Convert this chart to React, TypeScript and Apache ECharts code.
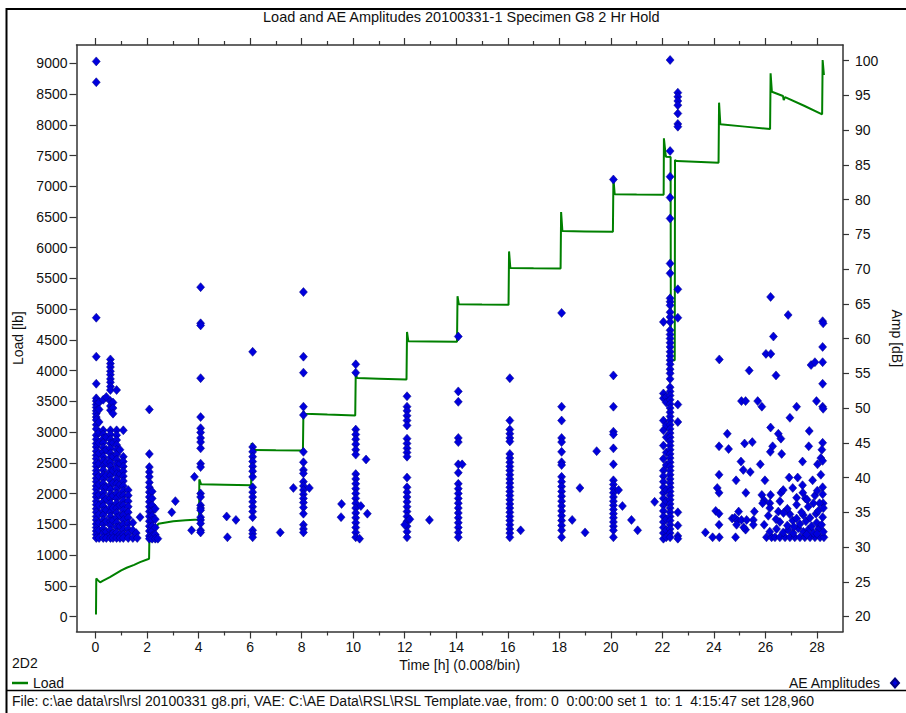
import React, { useEffect, useRef } from "react";
import * as echarts from "echarts";

const FONT = "'Liberation Sans', Arial, Helvetica, sans-serif";
const TXT = "#111111";
const AX = "#333333";

const TITLE = "Load and AE Amplitudes 20100331-1 Specimen G8 2 Hr Hold";
const FOOTER =
  "File: c:\\ae data\\rsl\\rsl 20100331 g8.pri, VAE: C:\\AE Data\\RSL\\RSL Template.vae, from: 0  0:00:00 set 1  to: 1  4:15:47 set 128,960";

// axis ranges & ticks
const X_MIN = -0.737;
const X_MAX = 29.01;
const LOAD_MIN = -244;
const LOAD_MAX = 9298;
const AMP_MIN = 17.84;
const AMP_MAX = 102.26;
const xMajorTicks = [0, 2, 4, 6, 8, 10, 12, 14, 16, 18, 20, 22, 24, 26, 28];
const xMinorTicks = [1, 3, 5, 7, 9, 11, 13, 15, 17, 19, 21, 23, 25, 27];
const loadTicks = [0, 500, 1000, 1500, 2000, 2500, 3000, 3500, 4000, 4500, 5000, 5500, 6000, 6500, 7000, 7500, 8000, 8500, 9000];
const ampTicks = [20, 25, 30, 35, 40, 45, 50, 55, 60, 65, 70, 75, 80, 85, 90, 95, 100];

// Load [lb] vs time [h]
const loadData: [number, number][] = [
  [0.02, 33], [0.03, 620], [0.07, 600], [0.18, 555], [0.28, 580], [0.56, 640], [1.0, 750], [1.21, 793],
  [1.5, 840], [1.73, 885], [2.08, 940], [2.09, 1240], [2.2, 1330], [2.44, 1510], [3.02, 1550], [3.5, 1565],
  [4.02, 1580], [4.03, 2230], [4.1, 2150], [5.0, 2145], [6.04, 2135], [6.06, 2822], [6.12, 2710], [7.0, 2705],
  [8.05, 2700], [8.07, 3340], [8.12, 3300], [9.0, 3285], [10.08, 3270], [10.1, 3960], [10.15, 3880], [11.0, 3870],
  [12.07, 3855], [12.09, 4630], [12.14, 4480], [13.0, 4475], [14.03, 4470], [14.05, 5210], [14.1, 5080], [15.0, 5075],
  [16.03, 5070], [16.05, 5940], [16.1, 5670], [17.0, 5665], [18.05, 5660], [18.07, 6580], [18.12, 6270], [19.0, 6265],
  [20.08, 6258], [20.1, 7130], [20.15, 6870], [21.0, 6866], [22.05, 6862], [22.06, 7780], [22.13, 7500], [22.14, 7480],
  [22.32, 7475], [22.33, 4170], [22.48, 4170], [22.49, 7425], [22.56, 7410], [23.5, 7395], [24.18, 7382], [24.2, 8360],
  [24.25, 8007], [25.2, 7970], [26.18, 7930], [26.2, 8837], [26.25, 8538], [26.68, 8468], [26.71, 8402], [26.76, 8450],
  [27.5, 8310], [28.2, 8170], [28.22, 9054], [28.27, 8810],
];

// AE amplitude [dB] columns (time of column, amplitudes)
const amp0a = [99.9, 96.9, 63.0, 57.4, 53.5, 51.4, 51.0, 50.5, 50.1, 49.6, 49.2, 48.7, 48.3, 47.6, 47.0, 46.1, 45.5, 44.9, 44.4, 43.8, 43.2, 42.7, 42.1, 41.6, 41.0, 40.5, 39.9, 39.4, 38.8, 38.3, 37.7, 37.2, 36.6, 36.1, 35.5, 35.0, 34.4, 33.9, 33.3, 32.8, 32.3, 31.8, 31.3];
const amp0b = [50.8, 49.8, 48.0, 46.5, 45.0, 43.5, 42.0, 40.2, 39.0, 37.5, 36.0, 34.7, 33.5, 32.4, 31.3];
const amp0c = [51.2, 46.8, 46.2, 45.6, 45.0, 44.3, 43.7, 43.0, 42.4, 41.7, 41.1, 40.4, 39.8, 39.1, 38.5, 37.8, 37.2, 36.5, 35.9, 35.2, 34.6, 33.9, 33.3, 32.6, 32.0, 31.3];
const amp0d = [51.6, 45.8, 44.0, 42.2, 40.3, 38.6, 36.9, 35.3, 33.7, 32.2, 31.3];
const amp0e = [57.0, 56.4, 55.9, 55.3, 54.8, 54.2, 53.7, 53.1, 52.6, 51.0, 50.3, 49.7, 46.8, 46.2, 45.5, 44.9, 44.2, 43.5, 42.9, 42.2, 41.6, 40.9, 40.3, 39.6, 38.9, 38.3, 37.6, 37.0, 36.3, 35.7, 35.0, 34.4, 33.7, 33.1, 32.4, 31.8, 31.3];
const amp0f = [50.8, 50.0, 49.2, 45.0, 43.0, 41.0, 39.2, 37.4, 35.6, 33.8, 32.0, 31.3];
const amp0g = [52.6, 46.8, 46.1, 45.4, 44.7, 44.0, 43.3, 42.6, 41.9, 41.2, 40.5, 39.8, 39.1, 38.4, 37.7, 37.0, 36.3, 35.6, 34.9, 34.2, 33.5, 32.8, 32.1, 31.3];
const amp0h = [44.0, 42.0, 40.5, 39.0, 37.5, 36.0, 34.5, 33.0, 31.8, 31.3];
const amp0i = [46.8, 43.0, 42.3, 41.6, 40.9, 40.2, 39.5, 38.8, 38.1, 37.4, 36.7, 36.0, 35.3, 34.6, 33.9, 33.2, 32.5, 31.8, 31.3];
const amp0j = [38.2, 37.4, 36.6, 35.8, 35.0, 34.2, 33.4, 32.6, 31.9, 31.3];
const amp2a = [49.8, 43.4, 41.5, 40.8, 40.1, 39.3, 38.6, 37.9, 37.2, 36.5, 35.8, 35.1, 34.4, 33.7, 33.0, 32.3, 31.6, 31.2];
const amp2b = [38.0, 37.0, 36.0, 35.2, 34.5, 33.8, 33.0, 32.3, 31.6, 31.2];
const amp2c = [35.5, 34.0, 32.8, 31.8, 31.2];
const amp4 = [67.4, 62.2, 61.9, 54.3, 48.7, 47.1, 46.5, 45.7, 45.1, 44.2, 42.0, 41.5, 37.7, 37.2, 36.0, 35.6, 35.3, 34.3, 33.9, 33.4, 32.4, 32.1];
const amp6 = [58.1, 44.4, 43.7, 43.0, 42.3, 41.6, 40.9, 40.1, 38.6, 37.9, 37.2, 36.5, 35.8, 35.1, 34.3, 32.4, 31.9, 31.4];
const amp8 = [66.7, 57.4, 55.1, 50.2, 49.0, 43.7, 42.2, 41.1, 40.6, 39.4, 38.8, 38.2, 37.6, 37.0, 36.4, 35.7, 34.8, 33.2, 32.6, 32.1];
const amp10 = [56.3, 55.1, 46.9, 46.2, 45.5, 44.8, 44.0, 43.3, 40.5, 39.8, 39.1, 38.4, 37.7, 37.0, 36.3, 35.6, 34.9, 34.2, 33.5, 32.8, 32.1, 31.4];
const amp12 = [51.7, 50.2, 49.6, 48.9, 48.2, 47.5, 45.6, 44.9, 44.2, 43.6, 43.0, 40.0, 38.6, 37.9, 37.2, 36.5, 35.8, 35.1, 34.4, 33.7, 33.0, 32.2, 31.4];
const amp14 = [60.3, 52.4, 50.9, 45.7, 45.1, 41.9, 40.7, 39.1, 38.4, 37.7, 37.0, 36.3, 35.6, 34.9, 34.2, 33.5, 32.8, 32.1, 31.4];
const amp16 = [54.3, 48.2, 46.9, 46.3, 45.7, 45.2, 43.4, 42.8, 42.2, 41.6, 41.0, 40.4, 39.8, 39.2, 38.6, 38.0, 37.4, 36.8, 36.2, 35.6, 35.0, 34.4, 33.8, 33.2, 32.6, 32.0, 31.4];
const amp18 = [63.7, 50.2, 48.2, 45.7, 45.1, 43.7, 42.2, 41.8, 40.1, 39.4, 38.7, 38.0, 37.3, 36.6, 35.9, 35.2, 34.5, 33.8, 33.1, 32.4, 31.4];
const amp20 = [82.9, 54.7, 50.2, 46.6, 46.2, 44.2, 41.9, 39.6, 39.0, 38.4, 37.8, 37.2, 36.6, 36.0, 35.4, 34.8, 34.2, 33.6, 33.0, 32.4, 31.4];
const amp22a = [62.4, 52.1, 51.4, 48.2, 46.8, 44.6, 42.7, 41.0, 40.2, 39.4, 38.6, 37.8, 37.0, 36.0, 35.2, 34.4, 33.6, 32.8, 32.0, 31.2];
const amp22b = [51.6, 50.8, 47.5, 45.8, 43.6, 41.8, 38.2, 36.6, 34.0, 32.4, 31.4];
const amp22c = [100.1, 87.0, 83.3, 80.3, 77.3, 70.8, 69.4, 65.8, 65.3, 64.8, 63.8, 63.1, 62.4, 61.2, 60.6, 60.0, 59.4, 58.8, 58.1, 57.5, 56.9, 56.3, 55.6, 55.0, 54.2, 53.0, 52.4, 51.8, 51.2, 50.6, 50.0, 49.4, 48.8, 48.2, 47.6, 47.0, 46.4, 45.8, 45.2, 44.6, 44.0, 43.4, 42.8, 42.2, 41.6, 41.0, 40.4, 39.8, 39.2, 38.6, 38.0, 37.4, 36.8, 36.2, 35.6, 35.0, 34.4, 33.8, 33.2, 32.6, 32.0, 31.4];
const amp22d = [95.4, 94.8, 94.2, 93.6, 92.4, 90.9, 90.5, 67.1, 63.0, 50.5, 48.0, 35.0, 33.1, 31.6, 31.2];

// isolated hits between holds [time, dB]
const aeSingles: [number, number][] = [
  [1.45, 33.5], [1.45, 32.4], [1.45, 31.3], [1.58, 32.0], [1.62, 31.3], [1.73, 34.3],
  [2.42, 31.2], [2.96, 35.0], [3.1, 36.6], [3.73, 32.4], [3.84, 40.1],
  [5.09, 34.4], [5.12, 31.4], [5.45, 33.9], [7.17, 32.1], [7.68, 38.5], [8.3, 38.5],
  [10.5, 42.6], [9.55, 36.2], [9.53, 34.3], [10.55, 34.8], [10.3, 35.9], [10.25, 31.2],
  [12.0, 33.2], [12.2, 34.0], [12.96, 33.9], [14.23, 41.9], [16.5, 32.4],
  [18.8, 38.5], [18.5, 33.9], [19.0, 32.1], [19.45, 43.8],
  [20.3, 38.2], [20.45, 35.9], [20.8, 33.9], [21.04, 32.4], [21.7, 36.5],
];

// scattered hits during final holds (24 h - 28.3 h) [time, dB]
const aeLate: [number, number][] = [
  [26.2, 66.0], [26.88, 63.4], [28.22, 62.5], [28.24, 62.2], [26.31, 60.3], [26.02, 57.8], [26.21, 57.8], [28.22, 58.8],
  [24.21, 57.0], [25.37, 55.4], [26.41, 54.7], [27.77, 56.2], [27.92, 56.6], [28.22, 56.6], [28.22, 53.5],
  [25.07, 51.0], [25.23, 51.0], [25.7, 51.0], [25.86, 50.2], [27.21, 50.2], [27.98, 51.0], [28.22, 50.2], [28.24, 49.9],
  [26.95, 48.6], [26.2, 47.2], [24.52, 46.3], [26.5, 46.3], [26.6, 45.6], [27.7, 46.7],
  [24.2, 44.5], [24.57, 44.1], [25.19, 44.9], [25.49, 45.1], [26.28, 44.5], [26.19, 43.7], [26.63, 43.4], [27.68, 44.5],
  [28.22, 45.0], [28.19, 44.0], [28.15, 42.8], [28.22, 42.4], [25.05, 42.3], [25.8, 41.9], [25.14, 41.1], [25.41, 40.8],
  [27.44, 42.3], [28.02, 41.9], [24.2, 40.4], [26.92, 40.0], [27.25, 40.0], [28.15, 40.4], [24.86, 39.6], [25.98, 39.6],
  [27.83, 39.6], [24.13, 38.5], [24.2, 37.8], [25.24, 37.8], [27.06, 38.5], [27.44, 38.9], [27.45, 37.8], [26.6, 37.8],
  [26.69, 38.2], [25.86, 37.5], [25.95, 36.7], [26.2, 37.5], [26.17, 36.3], [27.21, 37.1], [27.55, 37.0], [27.62, 36.8],
  [27.92, 37.4], [28.01, 38.1], [28.22, 38.6], [28.22, 37.6], [28.24, 36.3], [28.1, 36.3], [27.86, 36.3],
  [24.07, 35.2], [24.2, 34.8], [24.96, 35.1], [25.57, 35.1], [24.71, 34.1], [24.81, 34.2], [24.92, 33.8], [25.07, 33.9],
  [25.27, 33.9], [25.53, 33.9], [24.2, 33.2], [24.88, 33.2], [25.23, 32.5], [25.16, 32.8], [25.53, 33.2], [25.95, 33.2],
  [23.67, 32.1], [23.95, 31.4], [24.21, 31.4], [24.84, 31.4], [26.04, 31.4],
  [26.24, 31.4], [26.37, 31.4], [26.56, 31.4], [26.76, 31.4], [26.95, 31.4], [27.14, 31.4], [27.34, 31.4], [27.53, 31.4],
  [27.73, 31.4], [27.92, 31.4], [28.12, 31.4], [28.27, 31.4],
  [26.17, 32.2], [26.43, 32.6], [26.69, 32.1], [26.88, 32.5], [27.08, 32.0], [27.27, 32.7], [27.47, 32.2], [27.66, 32.5],
  [27.86, 32.0], [28.05, 32.6], [28.25, 32.2],
  [26.56, 33.6], [26.85, 33.1], [27.06, 33.8], [27.34, 33.3], [27.57, 33.7], [27.79, 33.0], [27.99, 33.5], [28.18, 33.2],
  [26.11, 34.5], [26.41, 34.0], [26.95, 34.7], [27.21, 34.1], [27.47, 34.6], [27.73, 34.2], [27.96, 34.8], [28.22, 34.3],
  [26.17, 35.6], [26.5, 35.1], [26.85, 35.5], [27.4, 35.0], [27.66, 35.8], [28.05, 35.2], [28.25, 35.6],
  [25.89, 36.3], [26.56, 36.6], [27.21, 36.1], [27.1, 32.9], [27.6, 31.8], [28.0, 31.9], [26.7, 34.9],
];

const stack = (t: number, amps: number[]) => amps.map((a) => [t, a]);

const aeData = [
  ...stack(0.03, amp0a), ...stack(0.14, amp0b), ...stack(0.3, amp0c), ...stack(0.42, amp0d),
  ...stack(0.58, amp0e), ...stack(0.68, amp0f), ...stack(0.82, amp0g), ...stack(0.95, amp0h),
  ...stack(1.08, amp0i), ...stack(1.27, amp0j),
  ...stack(2.09, amp2a), ...stack(2.2, amp2b), ...stack(2.32, amp2c),
  ...stack(4.08, amp4), ...stack(6.1, amp6), ...stack(8.07, amp8), ...stack(10.1, amp10),
  ...stack(12.09, amp12), ...stack(14.08, amp14), ...stack(16.08, amp16), ...stack(18.09, amp18),
  ...stack(20.1, amp20), ...stack(22.04, amp22a), ...stack(22.15, amp22b), ...stack(22.3, amp22c),
  ...stack(22.6, amp22d),
  ...aeSingles, ...aeLate,
];

const axisLine = { show: true, onZero: false, lineStyle: { color: AX, width: 1.5 } };
const tickLine = { color: AX, width: 1.2 };
const labelStyle = { fontSize: 14, color: TXT, fontFamily: FONT };
const plain = (v: number) => String(v);

function buildOption(): any {
  const xBase = { type: "value", min: X_MIN, max: X_MAX, splitLine: { show: false }, gridIndex: 0 };
  return {
    animation: false,
    backgroundColor: "#ffffff",
    title: {
      text: TITLE,
      left: 263,
      top: 9,
      padding: 0,
      textStyle: { fontSize: 14.5, fontWeight: "normal", color: TXT, fontFamily: FONT },
    },
    grid: { left: 76.5, right: 63, top: 45, bottom: 81.5, containLabel: false, outerBoundsMode: "none" },
    legend: [
      {
        data: ["Load"],
        left: 12,
        top: 676,
        padding: 0,
        icon: "rect",
        itemWidth: 16,
        itemHeight: 2.5,
        itemGap: 4,
        textStyle: labelStyle,
      },
      {
        data: ["AE Amplitudes"],
        right: 6,
        top: 676,
        padding: 0,
        align: "right",
        icon: "diamond",
        itemWidth: 8,
        itemHeight: 9,
        textStyle: { ...labelStyle, padding: [0, 6, 0, 0] },
      },
    ],
    xAxis: [
      {
        ...xBase,
        position: "bottom",
        axisLine,
        axisTick: { show: true, length: 7, customValues: xMajorTicks, lineStyle: tickLine },
        axisLabel: { ...labelStyle, margin: 8, customValues: xMajorTicks, formatter: plain },
        name: "Time [h] (0.008/bin)",
        nameLocation: "middle",
        nameGap: 25,
        nameTextStyle: { ...labelStyle, verticalAlign: "top" },
      },
      {
        ...xBase,
        position: "top",
        axisLine,
        axisTick: { show: true, length: 7, customValues: xMajorTicks, lineStyle: tickLine },
        axisLabel: { show: false },
      },
      {
        ...xBase,
        position: "bottom",
        axisLine: { show: false, onZero: false },
        axisTick: { show: true, length: 4, customValues: xMinorTicks, lineStyle: tickLine },
        axisLabel: { show: false },
      },
      {
        ...xBase,
        position: "top",
        axisLine: { show: false, onZero: false },
        axisTick: { show: true, length: 4, customValues: xMinorTicks, lineStyle: tickLine },
        axisLabel: { show: false },
      },
    ],
    yAxis: [
      {
        type: "value",
        position: "left",
        min: LOAD_MIN,
        max: LOAD_MAX,
        splitLine: { show: false },
        axisLine,
        axisTick: { show: true, length: 7, customValues: loadTicks, lineStyle: tickLine },
        axisLabel: { ...labelStyle, margin: 9, customValues: loadTicks, formatter: plain },
        name: "Load [lb]",
        nameLocation: "middle",
        nameGap: 51,
        nameRotate: 90,
        nameTextStyle: labelStyle,
      },
      {
        type: "value",
        position: "right",
        min: AMP_MIN,
        max: AMP_MAX,
        splitLine: { show: false },
        axisLine,
        axisTick: { show: true, length: 6, customValues: ampTicks, lineStyle: tickLine },
        axisLabel: { ...labelStyle, margin: 12, customValues: ampTicks, formatter: plain },
        name: "Amp [dB]",
        nameLocation: "middle",
        nameGap: 47,
        nameRotate: -90,
        nameTextStyle: labelStyle,
      },
    ],
    series: [
      {
        name: "Load",
        type: "line",
        xAxisIndex: 0,
        yAxisIndex: 0,
        data: loadData,
        showSymbol: false,
        symbol: "none",
        lineStyle: { color: "#008000", width: 2 },
        itemStyle: { color: "#008000" },
        z: 2,
      },
      {
        name: "AE Amplitudes",
        type: "scatter",
        xAxisIndex: 0,
        yAxisIndex: 1,
        data: aeData,
        symbol: "diamond",
        symbolSize: [8, 9],
        itemStyle: { color: "#0000DD", borderColor: "#000080", borderWidth: 0.5, opacity: 1 },
        z: 3,
      },
    ],
    graphic: [
      {
        type: "rect",
        shape: { x: 6.5, y: 9, width: 940, height: 740 },
        style: { fill: "none", stroke: "#000000", lineWidth: 2 },
        silent: true,
      },
      {
        type: "line",
        shape: { x1: 6, y1: 690.5, x2: 906, y2: 690.5 },
        style: { stroke: "#000000", lineWidth: 1.5 },
        silent: true,
      },
      {
        type: "text",
        x: 12,
        y: 663,
        style: { text: "2D2", fontSize: 14, fill: TXT, fontFamily: FONT, verticalAlign: "middle" },
        silent: true,
      },
      {
        type: "text",
        x: 12,
        y: 701,
        style: { text: FOOTER, fontSize: 14, fill: TXT, fontFamily: FONT, verticalAlign: "middle" },
        silent: true,
      },
    ],
  };
}

export default function App() {
  const ref = useRef<HTMLDivElement>(null);
  useEffect(() => {
    if (!ref.current) return;
    const chart = echarts.init(ref.current, null, { renderer: "svg" });
    chart.setOption(buildOption());
    return () => chart.dispose();
  }, []);
  return (
    <div
      ref={ref}
      style={{ position: "absolute", left: 0, top: 0, width: 906, height: 713, overflow: "hidden" }}
    />
  );
}
